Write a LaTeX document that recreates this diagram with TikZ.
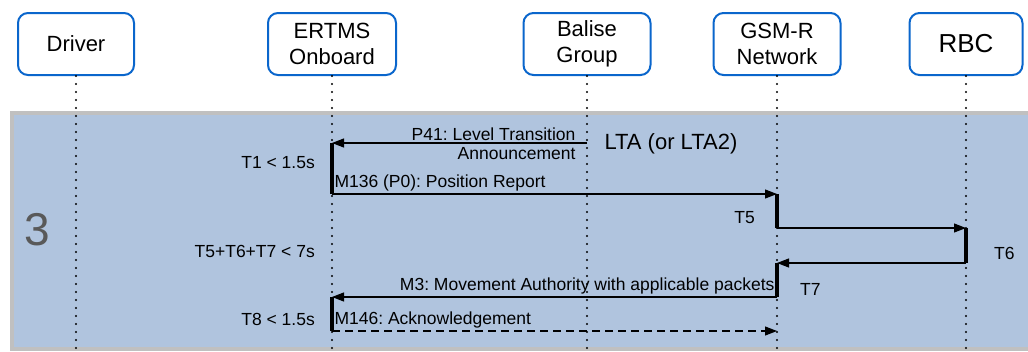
\documentclass[tikz,border=0pt]{standalone}
\usepackage{fontspec}
\setmainfont{Liberation Sans}
\usetikzlibrary{arrows.meta}
\definecolor{bandblue}{RGB}{176,196,222}
\definecolor{bandgray}{RGB}{192,192,192}
\definecolor{boxblue}{RGB}{10,102,204}
\definecolor{numgray}{RGB}{89,89,89}
\frenchspacing
\tikzset{
  actor/.style={draw=boxblue, line width=2pt, rounded corners=10pt, fill=white,
    minimum width=127pt, minimum height=62pt, align=center,
    font=\fontsize{22}{26.5}\selectfont},
  lifeline/.style={line width=2.3pt, dash pattern=on 0pt off 8pt, line cap=round},
  msg/.style={line width=1.1pt, -{Triangle[length=12pt,width=9pt]}},
  busy/.style={line width=3.5pt},
  lbl/.style={font=\fontsize{17.5}{20}\selectfont, inner sep=2pt},
}

\begin{document}
\begin{tikzpicture}[x=1pt,y=-1pt]
\useasboundingbox (0,0) rectangle (1028,351);
\clip (0,0) rectangle (1028,351);
% phase band
\fill[bandblue] (12,113) rectangle (1040,349);
\draw[bandgray, line width=4pt] (1040,113) -- (12,113) -- (12,349) -- (1040,349);
\node[font=\fontsize{46}{50}\selectfont, text=numgray] (phase) at (37,230) {3};

% actors
\node[actor, minimum width=116pt] (driver) at (76,44) {Driver};
\node[actor, minimum width=128pt] (ertms) at (332,44) {ERTMS\\Onboard};
\node[actor] (balise) at (587,44) {Balise\\Group};
\node[actor] (gsmr) at (777,44) {GSM-R\\Network};
\node[actor, minimum width=113pt, font=\fontsize{26}{30}\selectfont] (rbc) at (966,44) {RBC};

% lifelines
\coordinate (drvend) at (76,351);
\coordinate (ertend) at (332,351);
\coordinate (balend) at (587,351);
\coordinate (gsmend) at (777,351);
\coordinate (rbcend) at (966,351);
\draw[lifeline] (driver.south) -- (drvend);
\draw[lifeline] (ertms.south) -- (ertend);
\draw[lifeline] (balise.south) -- (balend);
\draw[lifeline] (gsmr.south) -- (gsmend);
\draw[lifeline] (rbc.south) -- (rbcend);

% message points
\coordinate (bg1) at (587,143);
\coordinate (ob1) at (332,143);
\coordinate (ob2) at (332,194);
\coordinate (gs1) at (777,194);
\coordinate (gs2) at (777,228);
\coordinate (rb1) at (966,228);
\coordinate (rb2) at (966,263);
\coordinate (gs3) at (777,263);
\coordinate (gs4) at (777,297);
\coordinate (ob3) at (332,297);
\coordinate (ob4) at (332,331);
\coordinate (gs5) at (777,331);

% busy bars
\draw[busy] (ob1) -- (ob2);
\draw[busy] (gs1) -- (gs2);
\draw[busy] (rb1) -- (rb2);
\draw[busy] (gs3) -- (gs4);
\draw[busy] (ob3) -- (ob4);

% messages
\draw[msg] (bg1) -- node[lbl, pos=0, anchor=south east, xshift=-9pt] {P41: Level Transition}
  node[lbl, pos=0, anchor=north east, xshift=-9pt, yshift=-2pt] {Announcement} (ob1);
\draw[msg] (ob2) -- node[lbl, pos=0, anchor=south west] {M136 (P0): Position Report} (gs1);
\draw[msg] (gs2) -- (rb1);
\draw[msg] (rb2) -- (gs3);
\draw[msg] (gs4) -- node[lbl, pos=0, anchor=south east] {M3: Movement Authority with applicable packets} (ob3);
\draw[msg, dash pattern=on 8pt off 5pt] (ob4) -- node[lbl, pos=0, anchor=south west] {M146: Acknowledgement} (gs5);

% timings
\node[lbl, anchor=east] (t1) at (317,163) {T1 < 1.5s};
\node[lbl, anchor=east] (t5) at (757,218) {T5};
\node[lbl, anchor=west] (t6) at (992,253) {T6};
\node[lbl, anchor=west] (t7) at (798,289) {T7};
\node[lbl, anchor=east] (tsum) at (317,251) {T5+T6+T7 < 7s};
\node[lbl, anchor=east] (t8) at (317,319) {T8 < 1.5s};
\node[font=\fontsize{22}{26}\selectfont, anchor=west] (lta) at (601,144) {LTA (or LTA2)};
\end{tikzpicture}
\end{document}
